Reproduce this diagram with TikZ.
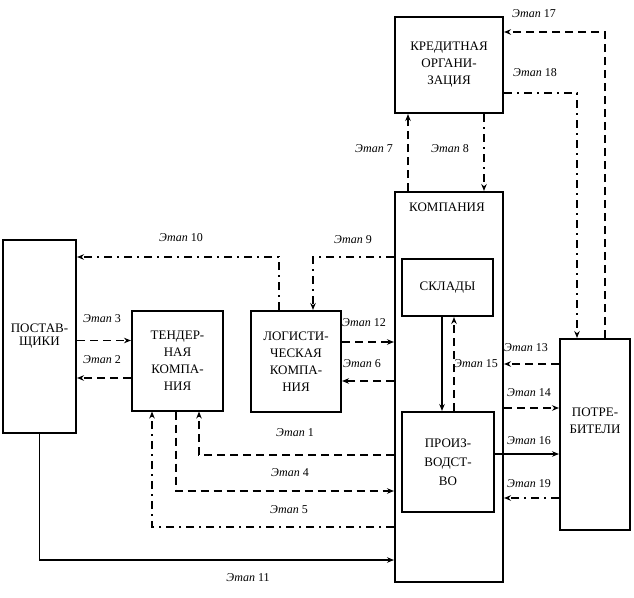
\documentclass[tikz,border=0pt]{standalone}
\usepackage{fontspec}
\setmainfont{Liberation Serif}
\usetikzlibrary{arrows.meta}

\begin{document}
\begin{tikzpicture}[x=1pt, y=-1pt,
    box/.style={draw, line width=2pt, align=center, inner sep=0pt, font=\fontsize{13}{17}\selectfont},
    lbl/.style={font=\fontsize{12}{14}\selectfont, inner sep=0pt},
    link/.style={line width=1.8pt, -{Stealth[length=7pt,width=5.5pt]}},
    dline/.style={link, dash pattern=on 8pt off 5pt},
    ddline/.style={link, dash pattern=on 8pt off 5pt on 2pt off 5pt}]

        \useasboundingbox (0,0) rectangle (634,597);

        % Boxes
        \node[box, minimum width=108pt, minimum height=96pt] (credit) at (449,65) {КРЕДИТНАЯ\\ОРГАНИ-\\ЗАЦИЯ};
        \node[box, minimum width=108pt, minimum height=390pt] (company) at (449,387) {};
        \node[font=\fontsize{13}{17}\selectfont, inner sep=0pt] (complbl) at (447,207) {КОМПАНИЯ};
        \node[box, minimum width=73pt, minimum height=193pt, font=\fontsize{13}{13}\selectfont] (suppl) at (39.5,336.5) {ПОСТАВ-\\ЩИКИ};
        \node[box, minimum width=91pt, minimum height=100pt] (tender) at (177.5,360.5) {ТЕНДЕР-\\НАЯ\\КОМПА-\\НИЯ};
        \node[box, minimum width=90pt, minimum height=101pt] (logist) at (296,361.5) {ЛОГИСТИ-\\ЧЕСКАЯ\\КОМПА-\\НИЯ};
        \node[box, minimum width=91pt, minimum height=57pt] (store) at (447.5,287.5) {СКЛАДЫ};
        \node[box, minimum width=92pt, minimum height=100pt, font=\fontsize{13}{19}\selectfont] (prod) at (448,462) {ПРОИЗ-\\ВОДСТ-\\ВО};
        \node[box, minimum width=70pt, minimum height=191pt, text depth=27pt] (cons) at (595,434.5) {ПОТРЕ-\\БИТЕЛИ};

        % Credit organisation
        \draw[dline] ([xshift=14pt]company.north west) -- ([xshift=14pt]credit.south west);
        \draw[ddline] ([xshift=-20pt]credit.south east) -- ([xshift=-20pt]company.north east);
        \draw[dline] ([xshift=10pt]cons.north) |- ([yshift=-16pt]credit.north east);
        \draw[ddline] ([yshift=21pt]credit.south east) -| ([xshift=-18pt]cons.north);

        % Suppliers, tender and logistics
        \draw[ddline] ([xshift=-17pt]logist.north) |- ([yshift=-18pt]suppl.north east);
        \draw[ddline] ([yshift=-66pt]company.north west) -| ([xshift=17pt]logist.north);
        \draw[dline] ([yshift=20pt]tender.west -| suppl.east) -- ([yshift=20pt]tender.west);
        \draw[dline] ([yshift=-17.5pt]tender.west) -- ([yshift=-17.5pt]tender.west -| suppl.east);
        \draw[dline] ([yshift=19.5pt]logist.east) -- ([yshift=19.5pt]logist.east -| company.west);
        \draw[dline] ([yshift=-19.5pt]logist.east -| company.west) -- ([yshift=-19.5pt]logist.east);
        \draw[dline] ([yshift=-68pt]company.west) -| ([xshift=21.5pt]tender.south);
        \draw[dline] ([xshift=-1.5pt]tender.south) |- ([yshift=-104pt]company.west);
        \draw[ddline] ([yshift=-140pt]company.west) -| ([xshift=-25.5pt]tender.south);
        \draw[link] (suppl.south) |- ([yshift=-173pt]company.west);

        % Inside the company
        \draw[link] ([xshift=-5.5pt]store.south) -- ([xshift=-5.5pt]store.south |- prod.north);
        \draw[dline] ([xshift=6.5pt]store.south |- prod.north) -- ([xshift=6.5pt]store.south);

        % Consumers
        \draw[dline] ([yshift=70.5pt]cons.west) -- ([yshift=70.5pt]cons.west -| company.east);
        \draw[dline] ([yshift=26.5pt]cons.west -| company.east) -- ([yshift=26.5pt]cons.west);
        \draw[link] ([yshift=8pt]prod.east) -- ([yshift=8pt]prod.east -| cons.west);
        \draw[ddline] ([yshift=-63.5pt]cons.west) -- ([yshift=-63.5pt]cons.west -| company.east);

        % Stage labels
        \foreach \x/\y/\n in {534/14/17, 535/73/18, 374/149/7, 450/149/8, 181/238/10, 353/240/9,
                102/319/3, 102/360/2, 364/323/12, 362/364/6, 295/433/1, 290/473/4, 289/510/5,
                248/578/11, 526/348/13, 476/364/15, 529/393/14, 529/441/16, 529/484/19} {
            \node[lbl] (e\n) at (\x,\y) {\textit{Этап} \n};
        }
    \end{tikzpicture}
\end{document}
